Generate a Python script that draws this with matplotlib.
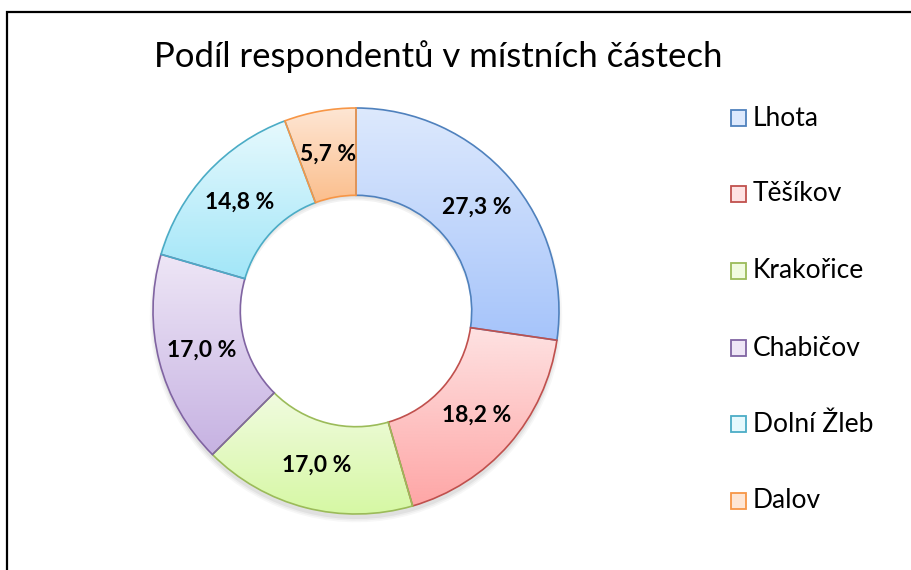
import numpy as np
import matplotlib.pyplot as plt
from matplotlib.colors import LinearSegmentedColormap
from matplotlib.patches import Rectangle

# data
categories = ['Lhota', 'Těšíkov', 'Krakořice', 'Chabičov', 'Dolní Žleb', 'Dalov']
shares = [27.3, 18.2, 17.0, 17.0, 14.8, 5.7]
labels = ['27,3 %', '18,2 %', '17,0 %', '17,0 %', '14,8 %', '5,7 %']
title = 'Podíl respondentů v místních částech'

# styling (top colour, bottom colour, edge colour)
tops = ['#dde9fd', '#fee2e2', '#f1fbe0', '#eee6f6', '#e6f9fd', '#fee6d4']
bottoms = ['#a6c4fa', '#fea6a6', '#d6f8a4', '#c6b2e2', '#a2e6f8', '#fbbe8c']
edges = ['#4f81bd', '#c0504d', '#9bbb59', '#8064a2', '#4bacc6', '#f79646']

plt.rcParams['font.family'] = ['Lato', 'DejaVu Sans']

fig = plt.figure(figsize=(9.12, 5.70), dpi=100)
fig.patch.set_facecolor('white')

# frame round the chart area (cut by the picture edge on right and bottom)
fig.patches.append(Rectangle((7 / 912, -0.1), 2.0, 1 - 12 / 570 + 0.1, fill=False,
                             lw=1.6, ec='black', transform=fig.transFigure))

cx, cy, r = 356, 311, 203
ax = fig.add_axes([(cx - r) / 912, (570 - cy - r) / 570, 2 * r / 912, 2 * r / 570])
ax.set_xlim(-1, 1)
ax.set_ylim(-1, 1)
ax.set_aspect('equal')
ax.axis('off')

# soft shadow under the ring
for k, a in enumerate([0.05, 0.04, 0.03]):
    ax.pie(shares, radius=1.0 + 0.008 * k, startangle=90, counterclock=False,
           center=(0, -0.025),
           wedgeprops=dict(width=0.43, fc='black', ec='none', alpha=a))

wedges, _ = ax.pie(shares, radius=1.0, startangle=90, counterclock=False,
                   wedgeprops=dict(width=0.43, linewidth=1.2))

grad = np.linspace(0, 1, 256).reshape(-1, 1)
for i, w in enumerate(wedges):
    w.set_facecolor('none')
    w.set_edgecolor(edges[i])
    w.set_zorder(3)
    bb = w.get_path().get_extents()
    cmap = LinearSegmentedColormap.from_list('g%d' % i, [tops[i], bottoms[i]])
    im = ax.imshow(grad, cmap=cmap, extent=[bb.x0, bb.x1, bb.y0, bb.y1],
                   origin='upper', aspect='auto', zorder=2)
    im.set_clip_path(w)
    # label at mid ring
    theta = np.deg2rad((w.theta1 + w.theta2) / 2)
    rm = 1.0 - 0.43 / 2
    ax.text(rm * np.cos(theta), rm * np.sin(theta), labels[i], ha='center',
            va='center', fontsize=16.5, fontweight='bold', color='black', zorder=4)

ax.set_xlim(-1, 1)
ax.set_ylim(-1, 1)

fig.text(438 / 912, 1 - 57 / 570, title, ha='center', va='center', fontsize=25)

# legend
leg_y = [118, 194, 271, 348, 424, 501]
for i, name in enumerate(categories):
    y = 1 - leg_y[i] / 570
    fig.patches.append(Rectangle((731 / 912, y - 8 / 570), 15 / 912, 16 / 570,
                                 fc=tops[i], ec=edges[i], lw=1.3,
                                 transform=fig.transFigure))
    fig.text(753 / 912, y, name, ha='left', va='center', fontsize=19)

fig.savefig('out.png', dpi=100)
